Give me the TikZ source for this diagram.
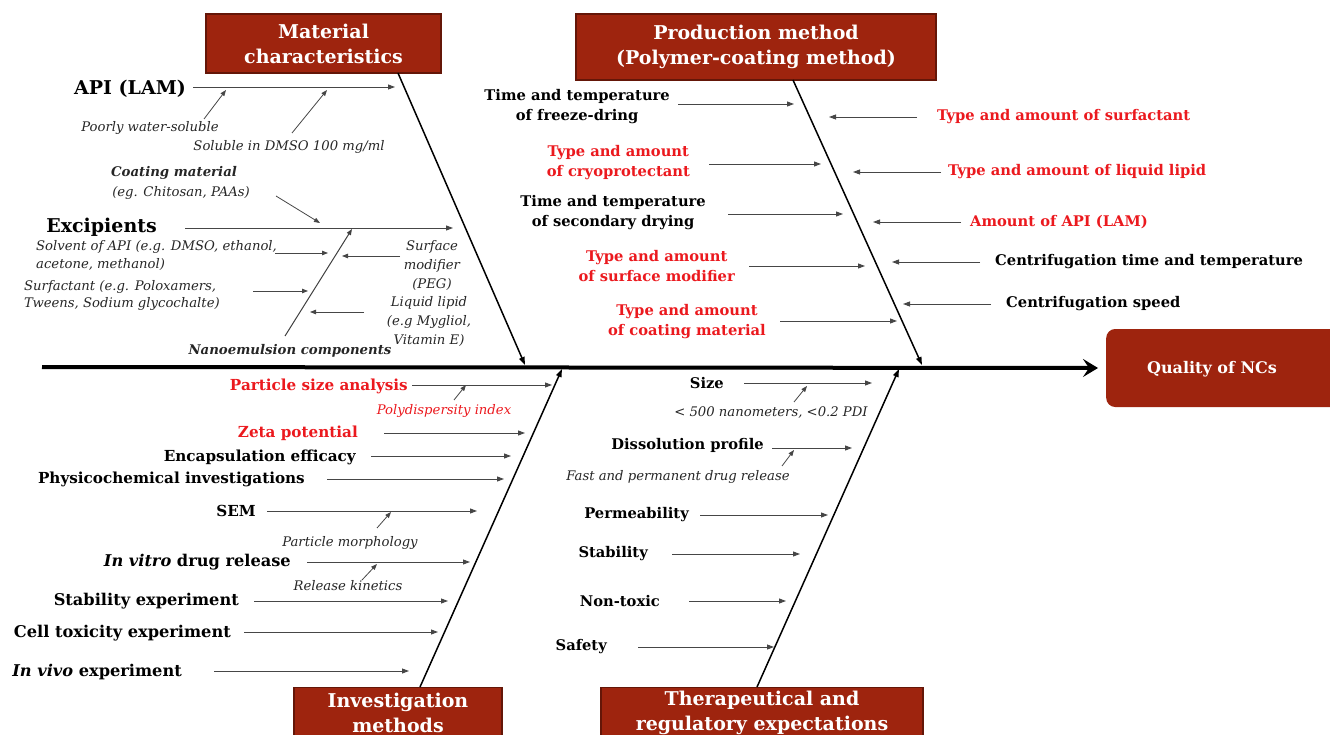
\documentclass[tikz,border=0pt]{standalone}
\usepackage{fontspec}
\setmainfont{DejaVu Serif}
\usetikzlibrary{arrows.meta}
\definecolor{boxred}{RGB}{158,36,14}
\definecolor{boxedge}{RGB}{100,22,8}
\definecolor{txtred}{RGB}{235,25,30}
\definecolor{arrgray}{RGB}{70,70,70}
\begin{document}
\begin{tikzpicture}[x=1pt,y=-1pt,
  title/.style={fill=boxred,draw=boxedge,line width=1.2pt,text=white,
     font=\bfseries\fontsize{19}{25}\selectfont,align=center,inner sep=0pt},
  lab/.style={font=\bfseries\fontsize{14.7}{20}\selectfont,align=center,inner sep=0pt},
  labi/.style={font=\bfseries\fontsize{15.2}{20}\selectfont,align=center,inner sep=0pt},
  labL/.style={font=\bfseries\fontsize{16.2}{20}\selectfont,align=center,inner sep=0pt},
  big/.style={font=\bfseries\fontsize{19}{22}\selectfont,inner sep=0pt},
  rtxt/.style={text=txtred},
  note/.style={font=\itshape\fontsize{13.2}{18}\selectfont,inner sep=0pt,text=black!85,align=center},
  bnote/.style={font=\bfseries\itshape\fontsize{13.3}{18}\selectfont,inner sep=0pt,text=black!85},
  arr/.style={draw=arrgray,line width=0.9pt,-{Triangle[length=7pt,width=5pt]}},
  sarr/.style={draw=arrgray,line width=0.8pt,-{Triangle[length=6pt,width=4.5pt]}},
  bone/.style={draw=black,line width=1.5pt,-{Triangle[length=8pt,width=5.5pt]}},
]
\useasboundingbox (0,0) rectangle (1330,735);

% ---------- heads / boxes
\node[title,minimum width=235,minimum height=59] (mbox) at (323.5,43.5) {Material\\characteristics};
\node[title,minimum width=360,minimum height=66] (pbox) at (756,47) {Production method\\(Polymer-coating method)};
\node[title,minimum width=208,anchor=north,inner ysep=5pt] (ibox) at (398,687) {Investigation\\methods};
\node[title,minimum width=322,anchor=north,inner ysep=3pt] (tbox) at (762,687) {Therapeutical and\\regulatory expectations};
\node[fill=boxred,rounded corners=9pt,minimum width=240,minimum height=78,anchor=west,inner sep=0pt] (qbox) at (1106,368) {};
\node[text=white,font=\bfseries\fontsize{16}{20}\selectfont,inner sep=0pt] (q) at (1212,369) {Quality of NCs};

% ---------- spine and bones
\coordinate (sp0) at (42,367);
\draw[line width=4pt,-{Stealth[length=15pt,width=18pt,inset=6pt]}] (sp0) -- ([xshift=-8]qbox.west);
\coordinate (mb1) at (398,73);  \coordinate (mb2) at (525,365);
\coordinate (pb1) at (793,80);  \coordinate (pb2) at (922,365);
\coordinate (ib1) at (420,687); \coordinate (ib2) at (562,369);
\coordinate (tb1) at (757,687); \coordinate (tb2) at (899,369);
\draw[bone] (mb1) -- (mb2);
\draw[bone] (pb1) -- (pb2);
\draw[bone] (ib1) -- (ib2);
\draw[bone] (tb1) -- (tb2);

% ---------- material characteristics
\node[big,anchor=east] (api) at (186,89) {API (LAM)};
\coordinate (t1) at (395,87);
\draw[arr] ([xshift=7]api.east |- t1) -- (t1);
\node[note] (pw) at (150,128) {Poorly water-soluble};
\coordinate (pw1) at (204,119); \coordinate (pw2) at (226,90);
\draw[sarr] (pw1) -- (pw2);
\node[note] (sd) at (289,147) {Soluble in DMSO 100 mg/ml};
\coordinate (sd1) at (292,133); \coordinate (sd2) at (327,90);
\draw[sarr] (sd1) -- (sd2);
\node[bnote] (cm) at (174,173) {Coating material};
\node[note] (cm2) at (181,193) {(eg. Chitosan, PAAs)};
\coordinate (cm3) at (276,196); \coordinate (cm4) at (320,223);
\draw[sarr] (cm3) -- (cm4);
\node[big,anchor=east] (exc) at (157,227) {Excipients};
\coordinate (t2) at (453,228);
\draw[arr] ([xshift=28]exc.east |- t2) -- (t2);
\node[note,anchor=west,align=left] (solv) at (36,256) {Solvent of API (e.g. DMSO, ethanol,\\acetone, methanol)};
\coordinate (so1) at (275,253); \coordinate (so2) at (328,253);
\draw[sarr] (so1) -- (so2);
\node[note,anchor=west,align=left,font=\itshape\fontsize{13.2}{17}\selectfont] (surf) at (24,295.5) {Surfactant (e.g. Poloxamers,\\Tweens, Sodium glycochalte)};
\coordinate (su1) at (253,291); \coordinate (su2) at (308,291);
\draw[sarr] (su1) -- (su2);
\coordinate (ne1) at (285,336); \coordinate (ne2) at (352,229);
\draw[sarr,draw=black!75,line width=1pt] (ne1) -- (ne2);
\node[note,font=\itshape\fontsize{13.2}{19}\selectfont] (sm) at (432,266) {Surface\\modifier\\(PEG)};
\coordinate (sm1) at (400,256); \coordinate (sm2) at (342,256);
\draw[sarr] (sm1) -- (sm2);
\node[note,font=\itshape\fontsize{13.2}{19}\selectfont] (ll) at (429,322) {Liquid lipid\\(e.g Mygliol,\\Vitamin E)};
\coordinate (ll1) at (364,312); \coordinate (ll2) at (310,312);
\draw[sarr] (ll1) -- (ll2);
\node[bnote] (nc) at (290,351) {Nanoemulsion components};

% ---------- production method
\node[lab,anchor=east] (fd) at (670,107) {Time and temperature\\of freeze-dring};
\coordinate (p1) at (794,104);
\draw[arr] ([xshift=8]fd.east |- p1) -- (p1);
\node[lab,anchor=west,rtxt] (sfa) at (937,117) {Type and amount of surfactant};
\coordinate (p2) at (829,117);
\draw[arr] ([xshift=-20]sfa.west |- p2) -- (p2);
\node[lab,anchor=east,rtxt] (cryo) at (690,163) {Type and amount\\of cryoprotectant};
\coordinate (p3) at (821,164);
\draw[arr] ([xshift=19]cryo.east |- p3) -- (p3);
\node[lab,anchor=west,rtxt] (lip) at (948,172) {Type and amount of liquid lipid};
\coordinate (p4) at (853,172);
\draw[arr] ([xshift=-7]lip.west |- p4) -- (p4);
\node[lab,anchor=east] (sec) at (706,213) {Time and temperature\\of secondary drying};
\coordinate (p5) at (843,214);
\draw[arr] ([xshift=22]sec.east |- p5) -- (p5);
\node[lab,anchor=west,rtxt] (apiam) at (970,222) {Amount of API (LAM)};
\coordinate (p6) at (873,222);
\draw[arr] ([xshift=-9]apiam.west |- p6) -- (p6);
\node[lab,anchor=east,rtxt] (smod) at (735,266) {Type and amount\\of surface modifier};
\coordinate (p7) at (865,266);
\draw[arr] ([xshift=14]smod.east |- p7) -- (p7);
\node[lab,anchor=west] (ctt) at (995,262) {Centrifugation time and temperature};
\coordinate (p8) at (892,262);
\draw[arr] ([xshift=-15]ctt.west |- p8) -- (p8);
\node[lab,anchor=west] (cs) at (1006,304) {Centrifugation speed};
\coordinate (p9) at (903,304);
\draw[arr] ([xshift=-15]cs.west |- p9) -- (p9);
\node[lab,anchor=east,rtxt] (coat) at (766,322) {Type and amount\\of coating material};
\coordinate (p10) at (897,321);
\draw[arr] ([xshift=14]coat.east |- p10) -- (p10);

% ---------- investigation methods
\node[labi,anchor=east,rtxt] (psa) at (408,386) {Particle size analysis};
\coordinate (i1) at (552,385);
\draw[arr] ([xshift=4]psa.east |- i1) -- (i1);
\node[note,text=txtred] (pdi) at (444,411) {Polydispersity index};
\coordinate (pd1) at (454,400); \coordinate (pd2) at (466,385);
\draw[sarr] (pd1) -- (pd2);
\node[labi,anchor=east,rtxt] (zeta) at (358,433) {Zeta potential};
\coordinate (i2) at (525,433);
\draw[arr] ([xshift=26]zeta.east |- i2) -- (i2);
\node[labi,anchor=east] (enc) at (356,457) {Encapsulation efficacy};
\coordinate (i3) at (511,456);
\draw[arr] ([xshift=15]enc.east |- i3) -- (i3);
\node[labi,anchor=east] (phys) at (305,479) {Physicochemical investigations};
\coordinate (i4) at (504,479);
\draw[arr] ([xshift=22]phys.east |- i4) -- (i4);
\node[labi,anchor=east] (sem) at (256,511) {SEM};
\coordinate (i5) at (477,511);
\draw[arr] ([xshift=11]sem.east |- i5) -- (i5);
\node[note] (pm) at (350,543) {Particle morphology};
\coordinate (pm1) at (377,528); \coordinate (pm2) at (391,512);
\draw[sarr] (pm1) -- (pm2);
\node[labL,anchor=east] (ivt) at (291,562) {\textit{In vitro} drug release};
\coordinate (i6) at (470,562);
\draw[arr] ([xshift=16]ivt.east |- i6) -- (i6);
\node[note] (rk) at (348,586) {Release kinetics};
\coordinate (rk1) at (362,580); \coordinate (rk2) at (377,564);
\draw[sarr] (rk1) -- (rk2);
\node[labL,anchor=east] (stab) at (239,601) {Stability experiment};
\coordinate (i7) at (448,601);
\draw[arr] ([xshift=15]stab.east |- i7) -- (i7);
\node[labL,anchor=east] (cell) at (231,633) {Cell toxicity experiment};
\coordinate (i8) at (438,632);
\draw[arr] ([xshift=13]cell.east |- i8) -- (i8);
\node[labL,anchor=east] (ivv) at (182,672) {\textit{In vivo} experiment};
\coordinate (i9) at (409,671);
\draw[arr] ([xshift=32]ivv.east |- i9) -- (i9);

% ---------- therapeutical expectations
\node[lab,anchor=east] (size) at (724,383) {Size};
\coordinate (e1) at (872,383);
\draw[arr] ([xshift=20]size.east |- e1) -- (e1);
\node[note] (sz) at (771,412) {< 500 nanometers, <0.2 PDI};
\coordinate (sz1) at (794,402); \coordinate (sz2) at (807,386);
\draw[sarr] (sz1) -- (sz2);
\node[lab,anchor=east] (diss) at (764,445) {Dissolution profile};
\coordinate (e2) at (852,448);
\draw[arr] ([xshift=8]diss.east |- e2) -- (e2);
\node[note] (fast) at (678,477) {Fast and permanent drug release};
\coordinate (fa1) at (782,466); \coordinate (fa2) at (794,450);
\draw[sarr] (fa1) -- (fa2);
\node[lab,anchor=east] (perm) at (689,515) {Permeability};
\coordinate (e3) at (828,515);
\draw[arr] ([xshift=11]perm.east |- e3) -- (e3);
\node[lab,anchor=east] (stb) at (648,554) {Stability};
\coordinate (e4) at (800,554);
\draw[arr] ([xshift=24]stb.east |- e4) -- (e4);
\node[lab,anchor=east] (ntx) at (660,601) {Non-toxic};
\coordinate (e5) at (786,601);
\draw[arr] ([xshift=29]ntx.east |- e5) -- (e5);
\node[lab,anchor=east] (saf) at (607,647) {Safety};
\coordinate (e6) at (774,647);
\draw[arr] ([xshift=31]saf.east |- e6) -- (e6);
\end{tikzpicture}
\end{document}
